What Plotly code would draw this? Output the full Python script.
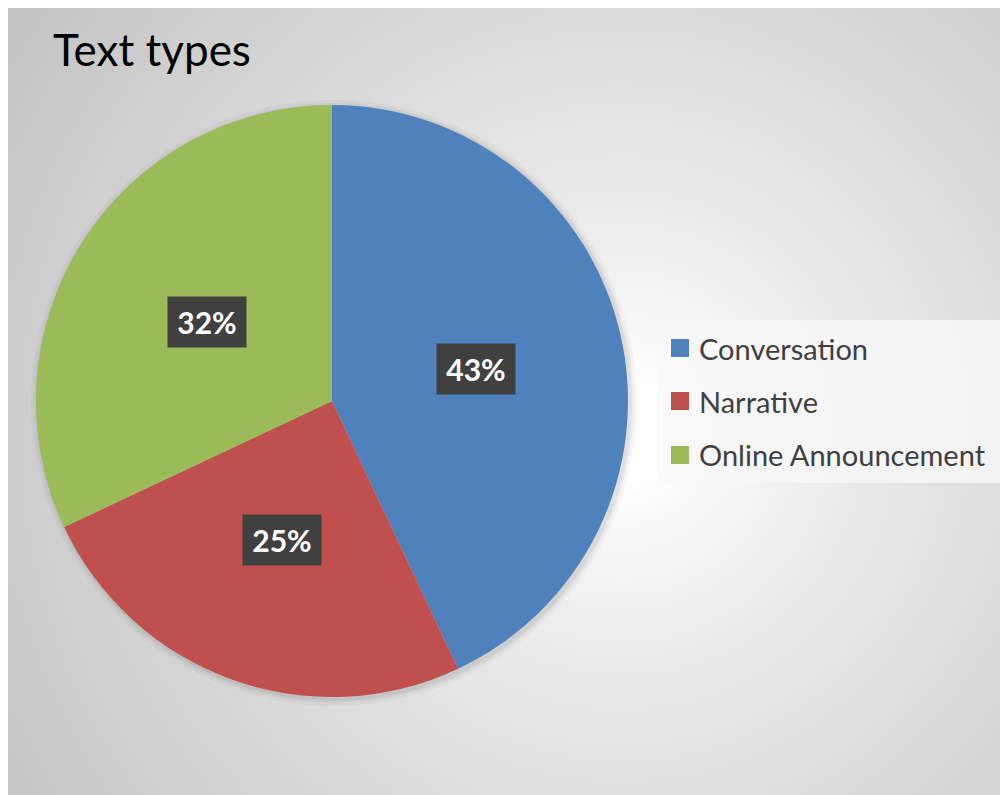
import math, zlib, struct, base64
import numpy as np
import plotly.graph_objects as go

# ---- data ----
categories = ["Conversation", "Narrative", "Online Announcement"]
values = [43, 25, 32]
colors = ["#4f81bd", "#c0504d", "#9bbb59"]
title_text = "Text types"

W, H = 1000, 787
OFF = 8  # page body margin

# ---- background radial gradient as a PNG ----
def make_png(arr):
    h, w = arr.shape
    raw = b"".join(b"\x00" + arr[i].tobytes() for i in range(h))
    def chunk(t, d):
        return struct.pack(">I", len(d)) + t + d + struct.pack(">I", zlib.crc32(t + d) & 0xffffffff)
    png = b"\x89PNG\r\n\x1a\n"
    png += chunk(b"IHDR", struct.pack(">IIBBBBB", w, h, 8, 0, 0, 0, 0))
    png += chunk(b"IDAT", zlib.compress(raw, 9))
    png += chunk(b"IEND", b"")
    return "data:image/png;base64," + base64.b64encode(png).decode()

gw, gh = 250, 197
ys, xs = np.mgrid[0:gh, 0:gw]
px = OFF + xs * W / gw
py = OFF + ys * H / gh
cx, cy = 620, 430
d = np.sqrt((px - cx) ** 2 + (py - cy) ** 2)
t = np.clip((d - 60) / 700, 0, 1)
v = 255 - 60 * t ** 0.8
img = make_png(np.clip(v, 0, 255).astype(np.uint8))

def X(p):
    return (p - OFF) / W

def Y(p):
    return 1 - (p - OFF) / H

# ---- pie geometry (reference pixel coords) ----
pcx, pcy, pr = 332, 401, 296

fig = go.Figure(go.Pie(
    labels=categories, values=values, sort=False, direction="clockwise",
    rotation=0, marker=dict(colors=colors, line=dict(width=0)),
    textinfo="none", hoverinfo="label+percent", showlegend=False,
    domain=dict(x=[X(pcx - pr), X(pcx + pr)], y=[Y(pcy + pr), Y(pcy - pr)]),
))

total = sum(values)
annotations = []
cum = 0
for val in values:
    mid = (cum + val / 2) / total * 2 * math.pi
    cum += val
    lx = pcx + 0.5 * pr * math.sin(mid)
    ly = pcy - 0.5 * pr * math.cos(mid)
    annotations.append(dict(
        x=X(lx), y=Y(ly), xref="paper", yref="paper",
        text=f"<b>{val / total * 100:.0f}%</b>", showarrow=False,
        font=dict(family="Lato", size=30, color="white"),
        bgcolor="#404040", borderpad=2, width=74, height=46,
        xanchor="center", yanchor="middle",
    ))

annotations.append(dict(
    x=X(51), y=Y(49), xref="paper", yref="paper", text=title_text,
    showarrow=False, xanchor="left", yanchor="middle",
    font=dict(family="Lato", size=44, color="#000000"),
))

shapes = []
# soft shadow around the pie
for extra, alpha in [(7, 0.03), (4, 0.04), (2, 0.05)]:
    shapes.append(dict(type="circle", xref="paper", yref="paper",
                       x0=X(pcx - pr - extra + 2), x1=X(pcx + pr + extra + 2),
                       y0=Y(pcy + pr + extra + 2), y1=Y(pcy - pr - extra + 2),
                       fillcolor=f"rgba(0,0,0,{alpha})", line=dict(width=0), layer="below"))
shapes.append(dict(type="rect", xref="paper", yref="paper", x0=X(657), x1=X(1003),
                   y0=Y(483), y1=Y(320), fillcolor="rgba(248,248,248,0.75)",
                   line=dict(width=0), layer="below"))
leg_y = [348, 401, 455]
for cat, col, yy in zip(categories, colors, leg_y):
    shapes.append(dict(type="rect", xref="paper", yref="paper", x0=X(671), x1=X(689),
                       y0=Y(yy + 9), y1=Y(yy - 9), fillcolor=col, line=dict(width=0)))
    annotations.append(dict(
        x=X(697), y=Y(yy), xref="paper", yref="paper", text=cat, showarrow=False,
        xanchor="left", yanchor="middle", font=dict(family="Lato", size=29, color="#404040"),
    ))

fig.update_layout(
    width=W, height=H, margin=dict(l=0, r=0, t=0, b=0),
    paper_bgcolor="white", plot_bgcolor="white",
    images=[dict(source=img, xref="paper", yref="paper", x=0, y=1,
                 sizex=1, sizey=1, xanchor="left", yanchor="top",
                 sizing="stretch", layer="below")],
    annotations=annotations, shapes=shapes, showlegend=False,
)

fig.write_html("out.html")
